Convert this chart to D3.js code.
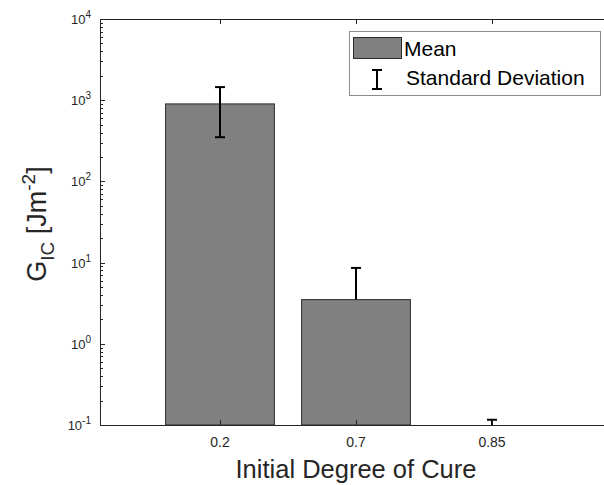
<!DOCTYPE html>
<html>
<head>
<meta charset="utf-8">
<script src="https://cdn.jsdelivr.net/npm/d3@7"></script>
<style>
  html, body { margin: 0; padding: 0; background: #fff; overflow: hidden; }
  svg { display: block; }
  text { font-family: "Liberation Sans", Arial, sans-serif; fill: #262626; }
</style>
</head>
<body>
<div id="chart"></div>
<script>
// data
var categories = ["0.2", "0.7", "0.85"];
var means = [900, 3.5, 0.1];
var stdevs = [550, 5.1, 0.016];
var yTickExps = [-1, 0, 1, 2, 3, 4];

var W = 604, H = 485;
var plot = {left: 100, right: 612, top: 19, bottom: 425};

var svg = d3.select("#chart").append("svg")
    .attr("width", W)
    .attr("height", H)
    .style("overflow", "hidden");

var x = d3.scaleLinear()
    .domain([1 - 0.882, categories.length + 0.882])
    .range([plot.left, plot.right]);

var y = d3.scaleLog()
    .domain([0.1, 1e4])
    .range([plot.bottom, plot.top]);

var barW = x(1.8) - x(1);

svg.append("clipPath").attr("id", "clip")
  .append("rect")
    .attr("x", plot.left).attr("y", plot.top - 2)
    .attr("width", W - plot.left)
    .attr("height", plot.bottom - plot.top + 4);

var g = svg.append("g").attr("clip-path", "url(#clip)");

// bars (a bar at the bottom limit is just its outline)
g.selectAll("rect.bar")
    .data(means)
  .enter().append("rect")
    .attr("class", "bar")
    .attr("x", function(d, i) { return x(i + 1) - barW / 2; })
    .attr("y", function(d) { return y(Math.max(d, 0.1)); })
    .attr("width", barW)
    .attr("height", function(d) { return Math.max(0, plot.bottom - y(Math.max(d, 0.1))); })
    .style("fill", "#808080")
    .style("stroke", "#2b2b2b")
    .style("stroke-width", 1);

// error bars (lower end dropped if it goes to or below the axis)
var capW = 10;
means.forEach(function(m, i) {
  var cx = x(i + 1);
  var hi = m + stdevs[i], lo = m - stdevs[i];
  var yHi = y(hi);
  var yLo = lo > 0.1 ? y(lo) : Math.min(y(Math.max(m, 0.1)), plot.bottom);
  var eb = g.append("g").style("stroke", "#000").style("stroke-width", 2);
  eb.append("line").attr("x1", cx).attr("x2", cx).attr("y1", yHi).attr("y2", yLo);
  eb.append("line").attr("x1", cx - capW / 2).attr("x2", cx + capW / 2).attr("y1", yHi).attr("y2", yHi);
  if (lo > 0.1) {
    eb.append("line").attr("x1", cx - capW / 2).attr("x2", cx + capW / 2).attr("y1", yLo).attr("y2", yLo);
  }
});

// axes: left, top, bottom (right edge falls outside the picture)
var axisColor = "#262626";
var ticksG = svg.append("g").style("stroke", axisColor).style("stroke-width", 1);
ticksG.append("line").attr("x1", plot.left + 0.5).attr("x2", plot.left + 0.5).attr("y1", plot.top).attr("y2", plot.bottom + 1);
ticksG.append("line").attr("x1", plot.left).attr("x2", W).attr("y1", plot.top + 0.5).attr("y2", plot.top + 0.5);
ticksG.append("line").attr("x1", plot.left).attr("x2", W).attr("y1", plot.bottom + 0.5).attr("y2", plot.bottom + 0.5);

// y ticks: major + log minor
yTickExps.forEach(function(e) {
  var yy = Math.round(y(Math.pow(10, e))) + 0.5;
  ticksG.append("line").attr("x1", plot.left).attr("x2", plot.left + 5).attr("y1", yy).attr("y2", yy);
  if (e < 4) {
    for (var k = 2; k < 10; k++) {
      var ym = Math.round(y(k * Math.pow(10, e))) + 0.5;
      ticksG.append("line").attr("x1", plot.left).attr("x2", plot.left + 3).attr("y1", ym).attr("y2", ym);
    }
  }
});

// x ticks, bottom and top
categories.forEach(function(c, i) {
  var xx = Math.round(x(i + 1)) + 0.5;
  ticksG.append("line").attr("x1", xx).attr("x2", xx).attr("y1", plot.bottom).attr("y2", plot.bottom - 5);
  ticksG.append("line").attr("x1", xx).attr("x2", xx).attr("y1", plot.top).attr("y2", plot.top + 5);
});

// y tick labels
var yl = svg.append("g").selectAll("text")
    .data(yTickExps)
  .enter().append("text")
    .attr("x", 91)
    .attr("y", function(e) { return y(Math.pow(10, e)) + 5; })
    .attr("text-anchor", "end")
    .style("font-size", "13px");
yl.append("tspan").text("10");
yl.append("tspan")
    .attr("dy", -6)
    .style("font-size", "10px")
    .text(function(e) { return e; });

// x tick labels
svg.append("g").selectAll("text")
    .data(categories)
  .enter().append("text")
    .attr("x", function(d, i) { return x(i + 1); })
    .attr("y", 447)
    .attr("text-anchor", "middle")
    .style("font-size", "14px")
    .text(function(d) { return d; });

// x axis title
svg.append("text")
    .attr("x", (plot.left + plot.right) / 2)
    .attr("y", 478)
    .attr("text-anchor", "middle")
    .style("font-size", "25.5px")
    .text("Initial Degree of Cure");

// y axis title G_IC [Jm^-2]
var yt = svg.append("text")
    .attr("transform", "translate(46," + 224 + ") rotate(-90)")
    .attr("text-anchor", "middle")
    .style("font-size", "27px");
yt.append("tspan").text("G");
yt.append("tspan").attr("dy", 8).style("font-size", "19px").text("IC");
yt.append("tspan").attr("dy", -8).text(" [Jm");
yt.append("tspan").attr("dy", -11).style("font-size", "19px").text("-2");
yt.append("tspan").attr("dy", 11).text("]");

// blank strip at the right edge (the axes box continues past the picture)
svg.append("rect")
    .attr("x", 602).attr("y", 21)
    .attr("width", 2).attr("height", 403)
    .style("fill", "#fff");

// legend
var lg = svg.append("g");
lg.append("rect")
    .attr("x", 349.5).attr("y", 31.5)
    .attr("width", 251).attr("height", 64)
    .style("fill", "#fff")
    .style("stroke", "#8c8c8c")
    .style("stroke-width", 1);
lg.append("rect")
    .attr("x", 353.5).attr("y", 37.5)
    .attr("width", 48).attr("height", 21)
    .style("fill", "#808080")
    .style("stroke", "#2b2b2b")
    .style("stroke-width", 1);
lg.append("text")
    .attr("x", 404).attr("y", 56)
    .style("font-size", "21px")
    .style("fill", "#000")
    .text("Mean");
var ebl = lg.append("g").style("stroke", "#000").style("stroke-width", 2);
ebl.append("line").attr("x1", 377).attr("x2", 377).attr("y1", 70).attr("y2", 89);
ebl.append("line").attr("x1", 372).attr("x2", 382).attr("y1", 70).attr("y2", 70);
ebl.append("line").attr("x1", 372).attr("x2", 382).attr("y1", 89).attr("y2", 89);
lg.append("text")
    .attr("x", 406).attr("y", 85)
    .style("font-size", "21px")
    .style("fill", "#000")
    .text("Standard Deviation");
</script>
</body>
</html>
